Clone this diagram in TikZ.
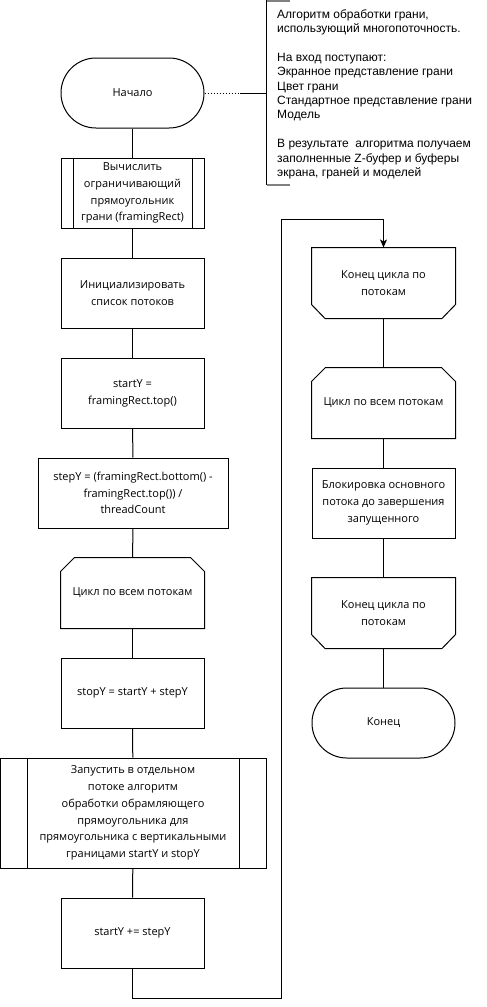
\documentclass[tikz,border=0pt]{standalone}
\usepackage{fontspec}
\setmainfont{Open Sans}
\newfontfamily\annfont{Liberation Sans}
\usetikzlibrary{arrows.meta}
\begin{document}
\begin{tikzpicture}[x=1pt,y=-1pt,
  box/.style={draw, line width=1pt, minimum width=143pt, minimum height=70pt, inner sep=0pt, align=center, font=\fontsize{11}{16.8}\selectfont},
  term/.style={box, rounded corners=34.9pt},
  sub/.style={box, path picture={
      \draw[line width=1pt] ([xshift=#1]path picture bounding box.north west) -- ([xshift=#1]path picture bounding box.south west);
      \draw[line width=1pt] ([xshift=-#1]path picture bounding box.north east) -- ([xshift=-#1]path picture bounding box.south east);}},
  loopbox/.style={box, draw=none},
  conn/.style={draw, line width=1pt},
  tick/.style={draw=gray, line width=2pt}]
\useasboundingbox (0,0) rectangle (487,1007);
% left column
\node[term] (start) at (132.5,93) {Начало};
\node[sub=12pt] (sub1) at (132.5,193) {Вычислить\\ограничивающий\\прямоугольник\\грани (framingRect)};
\node[box] (init) at (132.5,293) {Инициализировать\\список потоков};
\node[box] (sy) at (132.5,393) {startY =\\framingRect.top()};
\node[box, minimum width=190pt] (st) at (133,493) {stepY = (framingRect.bottom() -\\framingRect.top()) /\\threadCount};
\node[loopbox] (loop1) at (132.5,593) {Цикл по всем потокам};
\node[box] (stop) at (132.5,693) {stopY = startY + stepY};
\node[sub=27pt, minimum width=266pt, minimum height=110pt] (run) at (133,813) {Запустить в отдельном\\потоке алгоритм\\обработки обрамляющего\\прямоугольника для\\прямоугольника с вертикальными\\границами startY и stopY};
\node[box] (inc) at (132.5,933) {startY += stepY};
% right column
\node[loopbox] (end1) at (383.5,283) {Конец цикла по\\потокам};
\node[loopbox] (loop2) at (383.5,403) {Цикл по всем потокам};
\node[box] (block) at (383.5,503) {Блокировка основного\\потока до завершения\\запущенного};
\node[loopbox] (end2) at (383.5,613) {Конец цикла по\\потокам};
\node[term] (fin) at (383.5,723) {Конец};
% loop outlines
\foreach \n in {loop1,loop2}{
  \draw[line width=1pt] ([yshift=-14pt]\n.north west) -- ([xshift=14pt]\n.north west) -- ([xshift=-14pt]\n.north east) -- ([yshift=-14pt]\n.north east) -- (\n.south east) -- (\n.south west) -- cycle;}
\foreach \n in {end1,end2}{
  \draw[line width=1pt] (\n.north west) -- (\n.north east) -- ([yshift=14pt]\n.south east) -- ([xshift=-13.5pt]\n.south east) -- ([xshift=13.5pt]\n.south west) -- ([yshift=14pt]\n.south west) -- cycle;}
% connectors
\draw[conn] (start) -- (sub1);
\draw[conn] (sub1) -- (init);
\draw[conn] (init) -- (sy);
\draw[conn] (sy) -- (st);
\draw[conn] (st) -- (loop1);
\draw[conn] (loop1) -- (stop);
\draw[conn] (stop) -- (run);
\draw[conn] (run) -- (inc);
\coordinate (lb) at (281,998);
\coordinate (lt) at (281,219);
\draw[conn, -{Stealth[length=8pt,width=7pt,inset=2pt]}] (inc.south) |- (lb) -- (lt) -| (end1.north);
\draw[conn] (end1) -- (loop2);
\draw[conn] (loop2) -- (block);
\draw[conn] (block) -- (end2);
\draw[conn] (end2) -- (fin);
% annotation
\node[anchor=north west, inner sep=0pt, align=left, font=\annfont\fontsize{12}{14.4}\selectfont] (ann) at (277,9) {Алгоритм обработки грани,\\использующий многопоточность.\\[14.4pt]На вход поступают:\\Экранное представление грани\\Цвет грани\\Стандартное представление грани\\Модель\\[14.4pt]В результате\ \ алгоритма получаем\\заполненные Z-буфер и буферы\\экрана, граней и моделей};
\coordinate (annl) at (266.5,93);
\coordinate (dmid) at (240,93);
\draw[line width=1pt, dash pattern=on 1.5pt off 1.5pt] (start.east) -- (dmid);
\draw[line width=1pt] (dmid) -- (annl);
\draw[line width=1pt] (266.5,0) -- (266.5,185);
\draw[tick] (266.5,0.5) -- (290,0.5);
\draw[tick] (266.5,184.5) -- (290,184.5);
\end{tikzpicture}
\end{document}
